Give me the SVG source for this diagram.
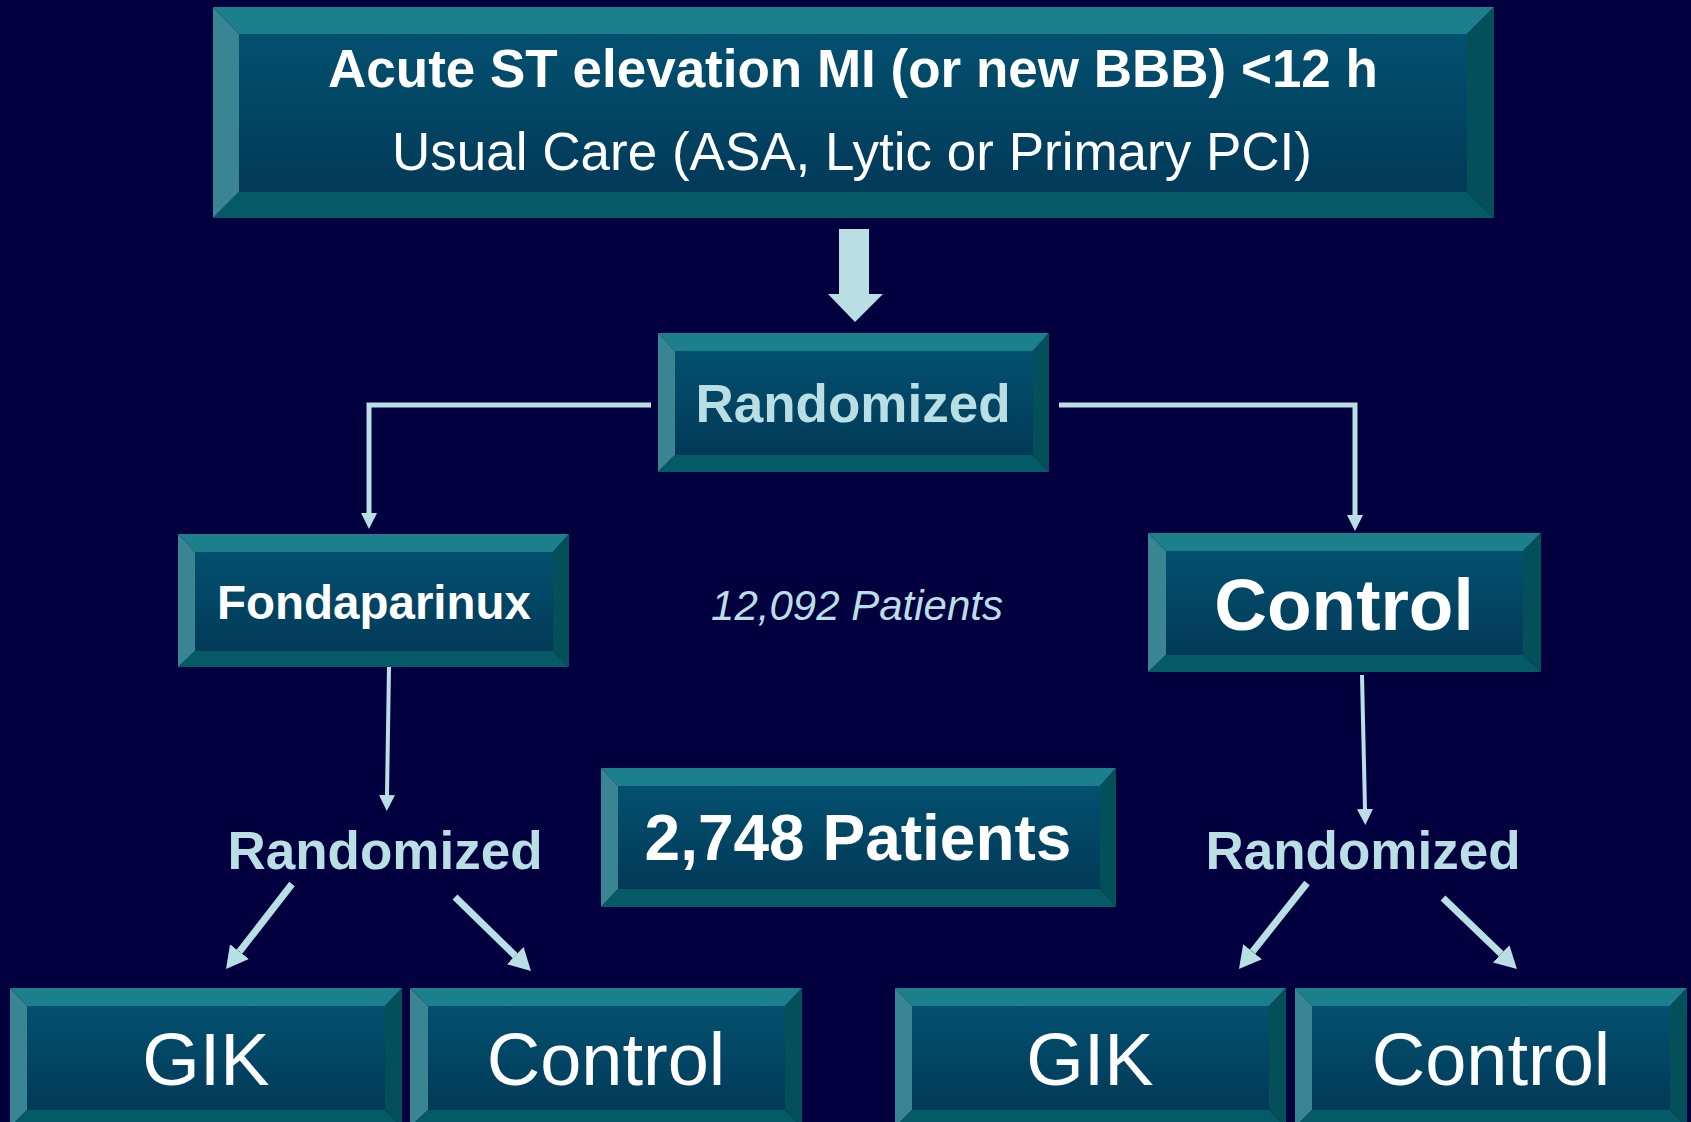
<svg xmlns="http://www.w3.org/2000/svg" width="1691" height="1122" viewBox="0 0 1691 1122">
<style>
.bt{fill:#1c7f8c}.bl{fill:#3a8593}.bb{fill:#045b67}.br{fill:#03505a}
.in{fill:url(#g)}
text{font-family:"Liberation Sans",Arial,sans-serif;text-anchor:middle}
.w{fill:#ffffff}.lb{fill:#b9dfe4}.b{font-weight:bold}
.c{stroke:#b9dfe4;fill:none}
</style>
<defs>
<linearGradient id="g" x1="0" y1="0" x2="0" y2="1">
<stop offset="0" stop-color="#035070"/><stop offset="1" stop-color="#023a58"/>
</linearGradient>
<marker id="h1" markerUnits="userSpaceOnUse" markerWidth="16" markerHeight="16" refX="0" refY="8" orient="auto" viewBox="0 0 16 16"><path d="M0,0 L16,8 L0,16 z" fill="#b9dfe4"/></marker>
<marker id="h2" markerUnits="userSpaceOnUse" markerWidth="22" markerHeight="24" refX="0" refY="12" orient="auto" viewBox="0 0 22 24"><path d="M0,0 L22,12 L0,24 z" fill="#b9dfe4"/></marker>
</defs>
<rect width="1691" height="1122" fill="#03003f"/>

<g id="connectors">
<polygon points="839,229 869,229 869,294 883,294 855,322 828,294 839,294" fill="#b9dfe4"/>
<path class="c" stroke-width="5" d="M651,405 H369 V513" marker-end="url(#h1)"/>
<path class="c" stroke-width="5" d="M1059,405 H1355 V515" marker-end="url(#h1)"/>
<path class="c" stroke-width="4" d="M389,667 L387,795" marker-end="url(#h1)"/>
<path class="c" stroke-width="4" d="M1362,675 L1365,809" marker-end="url(#h1)"/>
<path class="c" stroke-width="7" d="M292,884 L239.5,951.6" marker-end="url(#h2)"/>
<path class="c" stroke-width="7" d="M455,897 L515.2,955.7" marker-end="url(#h2)"/>
<path class="c" stroke-width="7" d="M1307,883 L1252.6,951.7" marker-end="url(#h2)"/>
<path class="c" stroke-width="7" d="M1443,898 L1501.1,953.8" marker-end="url(#h2)"/>
</g>

<g id="top">
<polygon class="bt" points="213,7 1494,7 1467,34 239,34"/>
<polygon class="bl" points="213,7 239,34 239,192 213,218"/>
<polygon class="bb" points="213,218 239,192 1467,192 1494,218"/>
<polygon class="br" points="1494,7 1494,218 1467,192 1467,34"/>
<rect class="in" x="239" y="34" width="1228" height="158"/>
<text class="w b" x="853" y="87" font-size="53">Acute ST elevation MI (or new BBB) &lt;12 h</text>
<text class="w" x="852" y="170" font-size="53">Usual Care (ASA, Lytic or Primary PCI)</text>
</g>

<g id="randomized">
<polygon class="bt" points="658,333 1049,333 1033,351 675,351"/>
<polygon class="bl" points="658,333 675,351 675,455 658,472"/>
<polygon class="bb" points="658,472 675,455 1033,455 1049,472"/>
<polygon class="br" points="1049,333 1049,472 1033,455 1033,351"/>
<rect class="in" x="675" y="351" width="358" height="104"/>
<text class="lb b" x="853" y="422" font-size="53">Randomized</text>
</g>

<g id="fondaparinux">
<polygon class="bt" points="178,534 569,534 553,552 195,552"/>
<polygon class="bl" points="178,534 195,552 195,651 178,667"/>
<polygon class="bb" points="178,667 195,651 553,651 569,667"/>
<polygon class="br" points="569,534 569,667 553,651 553,552"/>
<rect class="in" x="195" y="552" width="358" height="99"/>
<text class="w b" x="374" y="619" font-size="47.5">Fondaparinux</text>
</g>

<g id="control-main">
<polygon class="bt" points="1148,533 1541,533 1523,551 1166,551"/>
<polygon class="bl" points="1148,533 1166,551 1166,655 1148,672"/>
<polygon class="bb" points="1148,672 1166,655 1523,655 1541,672"/>
<polygon class="br" points="1541,533 1541,672 1523,655 1523,551"/>
<rect class="in" x="1166" y="551" width="357" height="104"/>
<text class="w b" x="1344" y="630" font-size="73">Control</text>
</g>

<g id="patients-12092">
<text class="lb" x="857" y="620" font-size="42" font-style="italic">12,092 Patients</text>
</g>

<g id="patients-2748">
<polygon class="bt" points="601,768 1116,768 1100,786 618,786"/>
<polygon class="bl" points="601,768 618,786 618,889 601,907"/>
<polygon class="bb" points="601,907 618,889 1100,889 1116,907"/>
<polygon class="br" points="1116,768 1116,907 1100,889 1100,786"/>
<rect class="in" x="618" y="786" width="482" height="103"/>
<text class="w b" x="858" y="860" font-size="64">2,748 Patients</text>
</g>

<g id="randomized-left">
<text class="lb b" x="385" y="869" font-size="53">Randomized</text>
</g>
<g id="randomized-right">
<text class="lb b" x="1363" y="869" font-size="53">Randomized</text>
</g>

<g id="gik-left">
<polygon class="bt" points="10,988 402,988 385,1006 27,1006"/>
<polygon class="bl" points="10,988 27,1006 27,1110 10,1127"/>
<polygon class="bb" points="10,1127 27,1110 385,1110 402,1127"/>
<polygon class="br" points="402,988 402,1127 385,1110 385,1006"/>
<rect class="in" x="27" y="1006" width="358" height="104"/>
<text class="w" x="206" y="1085" font-size="74">GIK</text>
</g>

<g id="control-left">
<polygon class="bt" points="410,988 802,988 785,1006 428,1006"/>
<polygon class="bl" points="410,988 428,1006 428,1110 410,1127"/>
<polygon class="bb" points="410,1127 428,1110 785,1110 802,1127"/>
<polygon class="br" points="802,988 802,1127 785,1110 785,1006"/>
<rect class="in" x="428" y="1006" width="357" height="104"/>
<text class="w" x="606" y="1085" font-size="74">Control</text>
</g>

<g id="gik-right">
<polygon class="bt" points="895,988 1286,988 1269,1006 912,1006"/>
<polygon class="bl" points="895,988 912,1006 912,1110 895,1127"/>
<polygon class="bb" points="895,1127 912,1110 1269,1110 1286,1127"/>
<polygon class="br" points="1286,988 1286,1127 1269,1110 1269,1006"/>
<rect class="in" x="912" y="1006" width="357" height="104"/>
<text class="w" x="1090" y="1085" font-size="74">GIK</text>
</g>

<g id="control-right">
<polygon class="bt" points="1295,988 1687,988 1670,1006 1312,1006"/>
<polygon class="bl" points="1295,988 1312,1006 1312,1110 1295,1127"/>
<polygon class="bb" points="1295,1127 1312,1110 1670,1110 1687,1127"/>
<polygon class="br" points="1687,988 1687,1127 1670,1110 1670,1006"/>
<rect class="in" x="1312" y="1006" width="358" height="104"/>
<text class="w" x="1491" y="1085" font-size="74">Control</text>
</g>
</svg>
